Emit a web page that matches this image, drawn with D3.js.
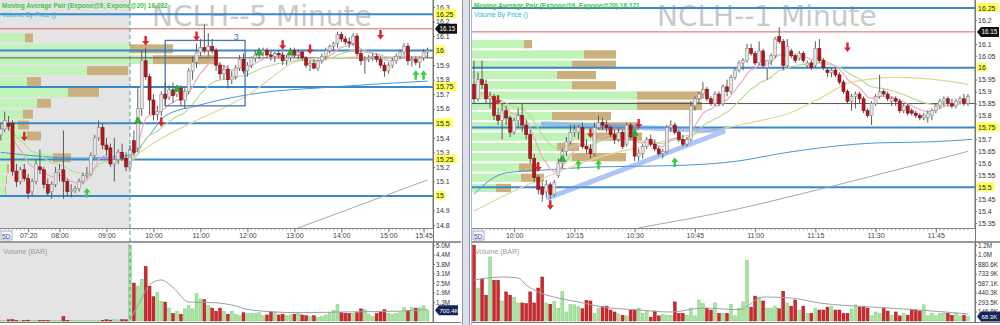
<!DOCTYPE html>
<html>
<head>
<meta charset="utf-8">
<script src="https://cdn.jsdelivr.net/npm/d3@7"></script>
<style>
body { margin: 0; background: #fff; }
svg { display: block; font-family: "Liberation Sans", Arial, sans-serif; }
</style>
</head>
<body>
<svg id="chart" width="1000" height="325"></svg>
<script>
// ---------- data : left chart (5 minute) ----------
var leftTimeLabels = ["07:20", "08:00", "09:00", "10:00", "11:00", "12:00", "13:00", "14:00", "15:00", "15:45"];
// [open, high, low, close], one bar every 5 minutes from 06:45
var leftBars = [
 [15.42,15.50,15.38,15.46],[15.46,15.58,15.44,15.52],[15.50,15.55,15.45,15.48],[15.50,15.52,15.14,15.17],
 [15.17,15.22,15.06,15.10],[15.10,15.20,15.08,15.18],[15.18,15.22,15.10,15.12],[15.12,15.15,14.98,15.02],
 [15.03,15.12,15.00,15.10],[15.10,15.25,15.08,15.22],[15.20,15.32,15.15,15.18],[15.18,15.20,15.05,15.08],
 [15.08,15.12,15.00,15.02],[15.03,15.10,14.98,15.08],[15.08,15.20,15.06,15.16],[15.16,15.22,15.10,15.18],
 [15.18,15.45,14.98,15.10],[15.10,15.12,15.00,15.03],[15.03,15.08,14.99,15.04],[15.04,15.07,15.02,15.05],
 [15.05,15.12,15.03,15.10],[15.10,15.16,15.08,15.14],[15.14,15.20,15.12,15.15],[15.15,15.30,15.14,15.28],
 [15.28,15.42,15.26,15.40],[15.40,15.52,15.38,15.47],[15.47,15.50,15.32,15.35],[15.35,15.40,15.28,15.32],
 [15.33,15.36,15.20,15.22],[15.22,15.40,15.10,15.25],[15.25,15.32,15.22,15.30],[15.30,15.36,15.24,15.26],
 [15.26,15.30,15.17,15.20],
 [15.20,15.35,15.18,15.32],[15.38,15.45,15.28,15.30],[15.33,15.74,15.30,15.60],[15.60,16.00,15.55,15.93],
 [15.93,16.02,15.80,15.82],[15.82,15.84,15.56,15.66],[15.66,15.70,15.52,15.56],[15.56,15.62,15.52,15.58],
 [15.58,15.72,15.55,15.70],[15.70,15.78,15.62,15.67],[15.68,15.76,15.66,15.73],[15.73,15.78,15.64,15.69],
 [15.70,15.76,15.68,15.74],[15.74,15.76,15.62,15.66],[15.66,15.74,15.60,15.72],[15.72,15.88,15.70,15.86],
 [15.86,15.96,15.80,15.92],[15.92,16.05,15.88,15.99],[15.99,16.08,15.96,16.02],[16.02,16.18,15.98,16.00],
 [16.00,16.12,15.96,16.03],[16.03,16.08,15.98,16.00],[16.00,16.02,15.86,15.90],[15.90,15.92,15.80,15.84],
 [15.84,15.90,15.80,15.87],[15.87,15.90,15.74,15.80],[15.80,15.86,15.77,15.82],[15.82,15.90,15.80,15.88],
 [15.88,15.97,15.86,15.94],[15.94,15.98,15.84,15.86],[15.86,15.92,15.82,15.90],[15.90,15.96,15.88,15.95],
 [15.95,16.00,15.92,15.97],[15.97,16.02,15.94,15.99],[15.99,16.02,15.96,16.00],[16.00,16.02,15.95,15.97],
 [15.97,16.00,15.93,15.96],[15.96,15.99,15.92,15.98],[15.98,16.00,15.95,15.97],[15.97,15.99,15.90,15.93],
 [15.93,15.97,15.90,15.95],[15.95,16.02,15.93,16.00],[16.00,16.02,15.95,15.97],[15.97,16.01,15.94,15.99],
 [15.99,16.00,15.93,15.95],[15.95,15.96,15.88,15.90],[15.90,15.93,15.86,15.91],[15.91,15.94,15.87,15.88],
 [15.88,15.94,15.86,15.93],[15.93,15.98,15.91,15.96],[15.96,16.02,15.94,16.00],[16.00,16.04,15.98,16.03],
 [16.03,16.06,16.00,16.05],[16.05,16.13,16.02,16.11],[16.11,16.13,16.06,16.08],[16.08,16.10,16.04,16.06],
 [16.06,16.09,16.02,16.05],[16.05,16.12,16.03,16.10],[16.10,16.12,15.96,15.98],[15.98,16.00,15.90,15.93],
 [15.93,15.96,15.84,15.94],[15.94,15.97,15.92,15.95],[15.95,15.98,15.93,15.96],[15.96,15.98,15.92,15.94],
 [15.94,15.96,15.88,15.90],[15.90,15.92,15.82,15.86],[15.86,15.92,15.84,15.90],[15.90,15.95,15.88,15.93],
 [15.93,15.98,15.91,15.96],[15.96,16.01,15.94,15.99],[15.99,16.05,15.97,16.03],[16.03,16.05,15.90,15.93],
 [15.93,15.96,15.89,15.94],[15.94,15.96,15.90,15.92],[15.92,15.96,15.88,15.95],[15.95,16.01,15.93,15.99],
 [15.99,16.02,15.95,16.00]
];
// volume in millions
var leftVolume = [
 0.05,0.03,0.08,0.10,0.04,0.02,0.03,0.06,0.02,0.05,0.04,0.03,0.02,0.04,0.03,0.05,0.30,0.05,0.04,0.03,
 0.02,0.03,0.02,0.04,0.05,0.06,0.05,0.08,0.06,0.10,0.07,0.09,0.08,
 5.0,2.5,2.3,2.75,3.6,2.3,1.6,1.9,1.3,1.25,0.85,0.5,0.65,0.45,0.8,1.0,0.8,1.8,1.45,1.4,1.0,0.85,0.65,
 0.85,0.65,0.45,0.65,0.45,0.35,
 0.55,0.5,0.5,0.5,0.55,0.35,0.4,0.6,0.6,0.4,0.45,0.35,0.4,0.45,0.5,0.4,0.35,0.3,0.35,0.25,0.3,0.4,
 0.55,0.7,1.1,0.55,0.5,0.5,0.5,0.55,0.8,0.75,0.45,0.3,0.5,0.6,0.75,0.5,0.45,0.5,0.6,0.9,0.7,0.9,
 0.85,0.9,1.0,0.7004
];
var leftVolMA = [[33,0.05],[36,1.5],[38,2.4],[41,2.7],[44,2.2],[48,1.25],[55,1.2],[59,1.05],[64,0.72],[76,0.55],[89,0.6],[102,0.65],[109,0.75]];
// volume by price rows (row top price), up / down volume in thousands
var leftProfileTop = [16.125,16.05,15.975,15.9,15.825,15.75,15.675,15.6,15.525,15.45,15.375,15.3,15.225,15.15,15.075];
var leftProfileUp = [2500,13000,15300,8700,2700,6800,3700,2300,1800,2700,1200,5300,700,600,500];
var leftProfileDown = [800,4300,6400,4100,1400,3100,1400,1000,1100,1400,300,1800,200,100,100];
var leftTan = [[33,15.25],[40,15.38],[50,15.52],[58,15.62],[64,15.71],[70,15.83],[75,15.92],[82,15.95],[109,15.96]];
var leftBlue = [[0,15.30],[20,15.26],[33,15.28],[38,15.42],[42,15.55],[50,15.62],[64,15.70],[85,15.75],[109,15.79]];
var leftGray = [[75,14.77],[90,14.92],[109,15.11]];
var leftKeyLevels = [15, 15.25, 15.5, 15.75, 16, 16.25];
var leftPriceTicks = [14.8,14.9,15.1,15.2,15.3,15.4,15.6,15.7,15.8,15.9,16.1,16.2,16.3];
var leftSells = [[6,15.40],[37,16.06],[41,15.50],[50,16.09],[72,16.03],[79,16.00],[97,16.10]];
var leftBuys = [[22,15.03],[106,15.84],[108,15.84]];
var leftSignals = [[35,15.52],[45,15.74],[66,15.99],[74,15.99]];
var leftVolTicks = [1.25,1.875,2.5,3.125,3.75,4.375,5.0];

// ---------- data : right chart (1 minute) ----------
var rightTimeLabels = ["10:00", "10:15", "10:30", "10:45", "11:00", "11:15", "11:30", "11:45"];
// [open, high, low, close], one bar every minute from 09:50
var rightBars = [
 [15.93,16.03,15.85,15.87],[15.87,15.98,15.86,15.95],[15.95,16.03,15.91,15.93],[15.93,15.95,15.85,15.87],
 [15.87,15.90,15.83,15.88],[15.88,15.89,15.78,15.80],[15.80,15.83,15.76,15.78],[15.78,15.85,15.70,15.82],
 [15.82,15.84,15.76,15.79],[15.79,15.80,15.71,15.73],[15.73,15.79,15.72,15.78],[15.78,15.83,15.75,15.80],
 [15.80,15.85,15.73,15.76],[15.76,15.78,15.70,15.72],[15.72,15.74,15.60,15.62],[15.62,15.64,15.52,15.54],
 [15.54,15.55,15.47,15.49],[15.50,15.52,15.44,15.47],[15.48,15.53,15.46,15.51],[15.51,15.52,15.45,15.47],
 [15.47,15.53,15.46,15.52],[15.55,15.62,15.54,15.60],[15.60,15.66,15.58,15.65],[15.65,15.71,15.63,15.69],
 [15.69,15.76,15.68,15.73],[15.73,15.76,15.71,15.74],[15.73,15.76,15.70,15.75],[15.75,15.77,15.66,15.67],
 [15.67,15.70,15.64,15.66],[15.66,15.68,15.62,15.64],[15.64,15.77,15.63,15.75],[15.75,15.80,15.74,15.77],
 [15.77,15.79,15.74,15.76],[15.76,15.78,15.73,15.75],[15.75,15.76,15.71,15.72],[15.72,15.74,15.68,15.70],
 [15.70,15.75,15.69,15.73],[15.73,15.74,15.66,15.67],[15.68,15.77,15.67,15.76],[15.76,15.77,15.70,15.71],
 [15.71,15.72,15.61,15.63],[15.63,15.66,15.61,15.64],[15.64,15.68,15.62,15.67],[15.67,15.71,15.66,15.70],
 [15.70,15.72,15.67,15.68],[15.68,15.70,15.65,15.66],[15.66,15.67,15.63,15.64],[15.64,15.66,15.62,15.65],
 [15.65,15.76,15.64,15.75],[15.75,15.78,15.73,15.76],[15.76,15.77,15.72,15.73],[15.73,15.74,15.69,15.70],
 [15.70,15.72,15.67,15.68],[15.68,15.71,15.67,15.70],[15.70,15.86,15.69,15.84],[15.84,15.88,15.82,15.87],
 [15.87,15.90,15.85,15.89],[15.89,15.94,15.87,15.91],[15.91,15.92,15.86,15.87],[15.87,15.88,15.84,15.85],
 [15.85,15.90,15.84,15.89],[15.89,15.90,15.84,15.85],[15.85,15.93,15.84,15.92],[15.92,15.95,15.88,15.90],
 [15.90,15.97,15.89,15.96],[15.96,16.00,15.95,15.99],[15.99,16.03,15.98,16.02],[16.02,16.04,15.99,16.03],
 [16.03,16.10,16.02,16.08],[16.08,16.10,16.05,16.06],[16.06,16.07,16.01,16.02],[16.02,16.11,16.01,16.07],
 [16.07,16.08,16.00,16.01],[16.00,16.03,15.95,16.03],[16.03,16.06,16.01,16.05],[16.05,16.13,16.04,16.12],
 [16.13,16.17,16.10,16.11],[16.11,16.12,15.99,16.01],[16.01,16.12,16.00,16.09],[16.07,16.08,16.04,16.05],
 [16.05,16.06,16.02,16.03],[16.04,16.07,16.03,16.06],[16.06,16.07,16.02,16.03],[16.01,16.03,16.00,16.02],
 [16.02,16.03,15.99,16.00],[16.01,16.11,16.00,16.08],[16.08,16.12,16.02,16.03],[16.03,16.04,15.99,16.00],
 [15.99,16.00,15.96,15.98],[15.98,16.00,15.96,15.99],[15.99,16.00,15.96,15.97],[15.97,15.98,15.93,15.94],
 [15.94,15.95,15.89,15.90],[15.90,15.91,15.85,15.86],[15.86,15.89,15.82,15.88],[15.88,15.90,15.83,15.89],
 [15.89,15.90,15.85,15.87],[15.87,15.88,15.81,15.82],[15.82,15.83,15.79,15.80],[15.80,15.86,15.76,15.85],
 [15.85,15.89,15.84,15.88],[15.88,15.97,15.87,15.90],[15.90,15.91,15.88,15.89],[15.89,15.90,15.86,15.87],
 [15.86,15.88,15.84,15.87],[15.87,15.88,15.84,15.86],[15.86,15.87,15.81,15.82],[15.82,15.85,15.81,15.84],
 [15.84,15.85,15.80,15.81],[15.82,15.83,15.80,15.81],[15.81,15.82,15.79,15.80],[15.80,15.81,15.78,15.79],
 [15.79,15.81,15.78,15.80],[15.79,15.82,15.77,15.81],[15.80,15.83,15.78,15.82],[15.82,15.85,15.81,15.84],
 [15.84,15.87,15.83,15.86],[15.86,15.88,15.84,15.87],[15.87,15.88,15.84,15.85],[15.85,15.87,15.83,15.84],
 [15.84,15.87,15.83,15.86],[15.86,15.88,15.85,15.87],[15.87,15.89,15.84,15.85],[15.85,15.89,15.84,15.88]
];
// volume in thousands
var rightVolume = [
 1174,510,650,400,990,630,630,310,450,400,370,280,280,270,450,280,510,680,280,260,
 300,200,460,140,260,250,220,190,320,310,120,200,220,230,170,140,110,90,80,170,
 170,200,120,155,60,155,80,105,90,90,295,120,120,90,200,80,325,270,200,170,
 280,120,120,120,260,80,200,
 295,940,215,385,370,310,200,200,230,190,460,280,230,325,170,230,120,120,200,170,
 170,215,230,170,170,120,120,185,250,215,230,200,80,140,120,200,155,90,140,80,
 120,90,170,170,155,250,80,120,80,120,120,120,90,120,80,90,68.3
];
var rightVolMA = [[0,633],[7,680],[11,664],[13,556],[16,448],[21,355],[26,294],[32,216],[41,170],[49,139],[57,200],[66,175],[72,371],[79,355],[86,278],[99,216],[111,170],[123,108]];
var rightProfileTop = [16.12,16.077,16.034,15.991,15.948,15.905,15.862,15.819,15.776,15.733,15.69,15.647,15.604,15.561,15.518];
var rightProfileUp = [52,112,100,85,100,165,165,80,127,120,85,100,47,49,24];
var rightProfileDown = [8,32,44,39,44,65,65,59,40,50,22,54,20,23,15];
var rightTan = [[0,15.40],[12,15.50],[22,15.57],[32,15.63],[42,15.67],[54,15.72],[66,15.76],[80,15.82],[87,15.88],[94,15.94],[105,15.96],[115,15.95],[123,15.93]];
var rightBlue = [[0,15.47],[4,15.53],[8,15.56],[16,15.57],[31,15.585],[49,15.59],[66,15.61],[76,15.64],[89,15.67],[100,15.685],[114,15.69],[124,15.70]];
var rightGray = [[41,15.33],[66,15.41],[81,15.47],[100,15.55],[123,15.65]];
var rightKeyLevels = [15.5, 15.75, 16, 16.25];
var rightPriceTicks = [15.35,15.4,15.45,15.55,15.6,15.65,15.7,15.8,15.85,15.9,15.95,16.05,16.1,16.2];
var rightSells = [[6,15.86],[16,15.58],[19,15.42],[29,15.72],[41,15.76],[93,16.08]];
var rightBuys = [[26,15.60],[31,15.60],[50,15.61]];
var rightSignals = [[22,15.62],[40,15.73]];
var rightVolTicks = [146.8,293.5,440.3,587.1,733.9,880.6,1027.5,1174.4];
var rightVolTickLabels = ["146.8K","293.5K","440.3K","587.1K","733.9K","880.6K","1.0M","1.2M"];

var svg = d3.select("#chart");

function toMin(s) {
    var a = s.split(":");
    return +a[0] * 60 + +a[1];
}

function ema(values, n) {
    var k = 2 / (n + 1), prev = values[0];
    return values.map(function (v, i) {
        prev = i ? v * k + prev * (1 - k) : v;
        return prev;
    });
}

function fmtTime(m) {
    return d3.format("02")(Math.floor(m / 60)) + ":" + d3.format("02")(m % 60);
}

function drawPanel(p) {
    var x = d3.scaleLinear().domain(p.timeDomain).range([p.x0, p.x1]);
    var y = d3.scaleLinear().domain(p.priceDomain).range([p.yLow, p.yHigh]);
    var v = d3.scaleLinear().domain([0, p.volMax]).range([321, 245]);
    var t0 = toMin(p.barStart);
    var bx = function (i) { return x(t0 + i * p.barStep); };
    var bars = p.bars.map(function (b, i) { return { i: i, o: b[0], h: b[1], l: b[2], c: b[3], vol: p.volume[i] }; });

    var g = svg.append("g");
    g.append("clipPath").attr("id", "clip" + p.id)
        .append("rect").attr("x", p.x0).attr("y", 0).attr("width", p.x1 - p.x0).attr("height", 228);
    g.append("clipPath").attr("id", "vclip" + p.id)
        .append("rect").attr("x", p.x0).attr("y", 243).attr("width", p.x1 - p.x0).attr("height", 80);
    var pane = g.append("g").attr("clip-path", "url(#clip" + p.id + ")");
    var vpane = g.append("g").attr("clip-path", "url(#vclip" + p.id + ")");

    // pre-market shading
    if (p.shadeTo) {
        var sx = x(toMin(p.shadeTo));
        pane.append("rect").attr("x", p.x0).attr("y", 0).attr("width", sx - p.x0).attr("height", 228).attr("fill", "#e4e4e4");
        vpane.append("rect").attr("x", p.x0).attr("y", 243).attr("width", sx - p.x0).attr("height", 80).attr("fill", "#e4e4e4");
        g.append("line").attr("x1", sx).attr("x2", sx).attr("y1", 0).attr("y2", 322)
            .attr("stroke", "#4f9a9a").attr("stroke-width", 1).attr("stroke-dasharray", "4,3");
    }

    // title watermark (behind everything)
    pane.append("text").attr("x", p.titleX).attr("y", 25.5).text(p.title)
        .attr("font-family", "DejaVu Sans").attr("font-size", 28).attr("fill", "#c9c9c9");

    // volume by price
    var pw = d3.scaleLinear().domain([0, p.profileMax]).range([0, p.profileWidth]);
    var rows = p.profileTop.map(function (top, k) {
        return { top: top, up: p.profileUp[k], down: p.profileDown[k] };
    });
    pane.selectAll(".pu").data(rows).enter().append("rect")
        .attr("x", p.x0)
        .attr("y", function (d) { return y(d.top) + 1; })
        .attr("width", function (d) { return pw(d.up); })
        .attr("height", function (d) { return y(d.top - p.profileStep) - y(d.top) - 2; })
        .attr("fill", "#bff3b8");
    pane.selectAll(".pd").data(rows).enter().append("rect")
        .attr("x", function (d) { return p.x0 + pw(d.up); })
        .attr("y", function (d) { return y(d.top) + 1; })
        .attr("width", function (d) { return pw(d.down); })
        .attr("height", function (d) { return y(d.top - p.profileStep) - y(d.top) - 2; })
        .attr("fill", "#cbb07e");

    // level lines
    pane.selectAll(".key").data(p.keyLevels).enter().append("line")
        .attr("x1", p.x0).attr("x2", p.x1)
        .attr("y1", function (d) { return y(d); }).attr("y2", function (d) { return y(d); })
        .attr("stroke", "#3a88cc").attr("stroke-width", 2);
    pane.append("line").attr("x1", p.x0).attr("x2", p.x1).attr("y1", y(p.redLevel)).attr("y2", y(p.redLevel))
        .attr("stroke", "#e06060").attr("stroke-width", 1);
    pane.append("line").attr("x1", p.x0).attr("x2", p.x1).attr("y1", y(p.darkLevel)).attr("y2", y(p.darkLevel))
        .attr("stroke", "#555").attr("stroke-width", 1);

    // moving averages
    var closes = bars.map(function (d) { return d.c; });
    var lineIdx = d3.line().x(function (d, i) { return bx(i); }).y(function (d) { return y(d); });
    var linePts = d3.line().curve(d3.curveMonotoneX).x(function (d) { return bx(d[0]); }).y(function (d) { return y(d[1]); });
    pane.append("path").attr("d", linePts(p.grayLine)).attr("fill", "none").attr("stroke", "#a8a8a8").attr("stroke-width", 1);
    pane.append("path").attr("d", linePts(p.blueLine)).attr("fill", "none").attr("stroke", "#4b95cf").attr("stroke-width", 1);
    pane.append("path").attr("d", linePts(p.tanLine)).attr("fill", "none").attr("stroke", "#e2d69a").attr("stroke-width", 1.2);
    pane.append("path").attr("d", lineIdx(ema(closes, 20))).attr("fill", "none").attr("stroke", "#b9dc95").attr("stroke-width", 1.2);
    pane.append("path").attr("d", lineIdx(ema(closes, 9))).attr("fill", "none").attr("stroke", "#ecaac4").attr("stroke-width", 1.2);

    if (p.extra) p.extra(pane, bx, y);

    // candles
    pane.selectAll(".wick").data(bars).enter().append("line")
        .attr("x1", function (d) { return bx(d.i); }).attr("x2", function (d) { return bx(d.i); })
        .attr("y1", function (d) { return y(d.h); }).attr("y2", function (d) { return y(d.l); })
        .attr("stroke", "#5a5a5a").attr("stroke-width", 1);
    pane.selectAll(".body").data(bars).enter().append("rect")
        .attr("x", function (d) { return bx(d.i) - 1.5; })
        .attr("width", 3)
        .attr("y", function (d) { return y(Math.max(d.o, d.c)); })
        .attr("height", function (d) { return Math.max(1, Math.abs(y(d.o) - y(d.c))); })
        .attr("fill", function (d) { return d.c >= d.o ? "#e6e6e6" : "#b5161c"; })
        .attr("stroke", function (d) { return d.c >= d.o ? "#8c8c8c" : "#7c0f12"; })
        .attr("stroke-width", 0.6);

    // signal markers
    var down = "M-1.2,-6 L1.2,-6 L1.2,-1 L3.5,-1 L0,3.5 L-3.5,-1 L-1.2,-1 Z";
    var up = "M-1.2,6 L1.2,6 L1.2,1 L3.5,1 L0,-3.5 L-3.5,1 L-1.2,1 Z";
    pane.selectAll(".sell").data(p.sells).enter().append("path").attr("d", down)
        .attr("transform", function (d) { return "translate(" + bx(d[0]) + "," + y(d[1]) + ")"; })
        .attr("fill", "#d7262b");
    pane.selectAll(".buy").data(p.buys).enter().append("path").attr("d", up)
        .attr("transform", function (d) { return "translate(" + bx(d[0]) + "," + y(d[1]) + ")"; })
        .attr("fill", "#35d03a");
    pane.selectAll(".sig").data(p.signals).enter().append("path").attr("d", "M0,-3.5 L3.5,3 L-3.5,3 Z")
        .attr("transform", function (d) { return "translate(" + bx(d[0]) + "," + y(d[1]) + ")"; })
        .attr("fill", "#2eb82e").attr("stroke", "#1d7a1d").attr("stroke-width", 0.5);

    // indicator texts
    g.append("text").attr("x", p.x0 + 2).attr("y", 8).text(p.maText)
        .attr("font-size", 6.5).attr("font-weight", "bold").attr("fill", "#43c443");
    g.append("text").attr("x", p.x0 + 2).attr("y", 16.5).text("Volume By Price ()")
        .attr("font-size", 6.5).attr("fill", "#33b0dd");

    // price axis
    var axisY = d3.axisRight(y).tickValues(p.priceTicks).tickSize(2).tickFormat(function (d) { return String(d); });
    var ay = g.append("g").attr("transform", "translate(" + p.x1 + ",0)").call(axisY);
    ay.select(".domain").attr("stroke", "#777").attr("d", "M0,0V228");
    ay.selectAll("text").attr("font-size", 7).attr("fill", "#333").attr("x", 3);
    ay.selectAll("line").attr("stroke", "#777");
    var keys = g.selectAll(".kl").data(p.keyLevels).enter().append("g")
        .attr("transform", function (d) { return "translate(" + (p.x1 + 2) + "," + y(d) + ")"; });
    keys.append("rect").attr("x", 0).attr("y", -5).attr("height", 9)
        .attr("width", function (d) { return String(d).length * 3.9 + 2; }).attr("fill", "#ffff55");
    keys.append("text").attr("x", 1).attr("y", 2.5).text(function (d) { return String(d); })
        .attr("font-size", 7).attr("fill", "#222");
    var tag = g.append("g").attr("transform", "translate(" + (p.x1 + 2) + "," + y(p.redLevel) + ")");
    tag.append("path").attr("d", "M0,0 L4,-5 L22,-5 L22,5 L4,5 Z").attr("fill", "#111");
    tag.append("text").attr("x", 4.5).attr("y", 2.3).text(String(p.redLevel)).attr("font-size", 6.3).attr("fill", "#fff");

    // time axis
    g.append("line").attr("x1", p.x0).attr("x2", p.x1).attr("y1", 228.5).attr("y2", 228.5).attr("stroke", "#888");
    g.selectAll(".mt").data(bars).enter().append("line")
        .attr("x1", function (d) { return bx(d.i); }).attr("x2", function (d) { return bx(d.i); })
        .attr("y1", 228.5).attr("y2", 230.5).attr("stroke", "#888").attr("stroke-width", 0.6);
    var axisX = d3.axisBottom(x).tickValues(p.timeLabels.map(toMin)).tickSize(4).tickFormat(fmtTime);
    var ax = g.append("g").attr("transform", "translate(0,228.5)").call(axisX);
    ax.select(".domain").remove();
    ax.selectAll("line").attr("stroke", "#777");
    ax.selectAll("text").attr("font-size", 7).attr("fill", "#444").attr("y", 5);
    g.append("rect").attr("x", p.x0 + 1).attr("y", 231).attr("width", 11).attr("height", 9)
        .attr("fill", "#f4f6fb").attr("stroke", "#6a7fb0").attr("stroke-width", 0.6);
    g.append("text").attr("x", p.x0 + 2).attr("y", 238.5).text(p.barLabel)
        .attr("font-size", 6.5).attr("fill", "#3a4f9a");

    // volume pane
    g.append("line").attr("x1", p.x0).attr("x2", p.x1 + 28).attr("y1", 242).attr("y2", 242).attr("stroke", "#777").attr("stroke-width", 1.5);
    vpane.selectAll(".vb").data(bars).enter().append("rect")
        .attr("x", function (d) { return bx(d.i) - 1.5; })
        .attr("width", 3)
        .attr("y", function (d) { return v(d.vol); })
        .attr("height", function (d) { return 321 - v(d.vol); })
        .attr("fill", function (d) { return d.c >= d.o ? "#a6e4a0" : "#cc2a2e"; })
        .attr("stroke", function (d) { return d.c >= d.o ? "#7cc676" : "#99161a"; })
        .attr("stroke-width", 0.4);
    var vline = d3.line().curve(d3.curveMonotoneX).x(function (d) { return bx(d[0]); }).y(function (d) { return v(d[1]); });
    vpane.append("path").attr("d", vline(p.volMA)).attr("fill", "none").attr("stroke", "#a0a0a0").attr("stroke-width", 1);
    g.append("text").attr("x", p.x0 + 3).attr("y", 254).text("Volume (BAR)").attr("font-size", 7).attr("fill", "#999");
    var axisV = d3.axisRight(v).tickValues(p.volTicks).tickSize(2).tickFormat(p.volFormat);
    var av = g.append("g").attr("transform", "translate(" + p.x1 + ",0)").call(axisV);
    av.select(".domain").attr("stroke", "#777").attr("d", "M0,243V322");
    av.selectAll("text").attr("font-size", 6.3).attr("fill", "#333").attr("x", 3);
    av.selectAll("line").attr("stroke", "#777");
    var last = p.volume[p.volume.length - 1];
    var vt = g.append("g").attr("transform", "translate(" + (p.x1 + 2) + "," + v(last) + ")");
    vt.append("path").attr("d", "M0,0 L4,-5 L23,-5 L23,5 L4,5 Z").attr("fill", "#17245a");
    vt.append("text").attr("x", 4.5).attr("y", 2.3).text(p.volFormatLast(last)).attr("font-size", 6).attr("fill", "#fff");

    // frame
    g.append("line").attr("x1", p.x1 + 0.5).attr("x2", p.x1 + 0.5).attr("y1", 0).attr("y2", 322).attr("stroke", "#777");
    g.append("line").attr("x1", p.x0).attr("x2", p.x1 + 28).attr("y1", 322.5).attr("y2", 322.5).attr("stroke", "#777");
}

drawPanel({
    id: "L", x0: 0, x1: 433, timeDomain: [toMin("06:44"), toMin("15:57")],
    priceDomain: [14.8, 16.3], yLow: 225, yHigh: 7, volMax: 5.0,
    barStart: "06:45", barStep: 5, bars: leftBars, volume: leftVolume, volMA: leftVolMA,
    shadeTo: "09:30",
    profileTop: leftProfileTop, profileUp: leftProfileUp, profileDown: leftProfileDown,
    profileStep: 0.075, profileMax: 21700, profileWidth: 217,
    keyLevels: leftKeyLevels, priceTicks: leftPriceTicks, redLevel: 16.15, darkLevel: 15.95,
    tanLine: leftTan, blueLine: leftBlue, grayLine: leftGray,
    sells: leftSells, buys: leftBuys, signals: leftSignals,
    title: "NCLH--5 Minute", titleX: 152,
    maText: "Moving Average Pair (Expone@9, Expone@20) 16.082",
    timeLabels: leftTimeLabels, barLabel: "5D",
    volTicks: leftVolTicks,
    volFormat: function (d) { return d3.format(".1f")(d) + "M"; },
    volFormatLast: function (d) { return d3.format(".1f")(d * 1000) + "K"; },
    extra: function (pane, bx, y) {
        // annotation box "3"
        pane.append("rect").attr("x", bx(42)).attr("y", y(16.07))
            .attr("width", bx(62.4) - bx(42)).attr("height", y(15.62) - y(16.07))
            .attr("fill", "none").attr("stroke", "#4a74ad").attr("stroke-width", 1.3);
        pane.append("text").attr("x", bx(59.5)).attr("y", y(16.07) - 0.5).text("3")
            .attr("font-size", 9).attr("fill", "#4a74ad");
    }
});

drawPanel({
    id: "R", x0: 472, x1: 975, timeDomain: [589.5, 714.75],
    priceDomain: [15.35, 16.25], yLow: 223, yHigh: 8, volMax: 1174.4,
    barStart: "09:50", barStep: 1, bars: rightBars, volume: rightVolume, volMA: rightVolMA,
    profileTop: rightProfileTop, profileUp: rightProfileUp, profileDown: rightProfileDown,
    profileStep: 0.043, profileMax: 230, profileWidth: 230,
    keyLevels: rightKeyLevels, priceTicks: rightPriceTicks, redLevel: 16.15, darkLevel: 15.85,
    tanLine: rightTan, blueLine: rightBlue, grayLine: rightGray,
    sells: rightSells, buys: rightBuys, signals: rightSignals,
    title: "NCLH--1 Minute", titleX: 657,
    maText: "Moving Average Pair (Expone@9, Expone@20) 16.171",
    timeLabels: rightTimeLabels, barLabel: "5D",
    volTicks: rightVolTicks,
    volFormat: function (d, i) { return rightVolTickLabels[i]; },
    volFormatLast: function (d) { return d3.format(".1f")(d) + "K"; },
    extra: function (pane, bx, y) {
        // hand drawn triangle
        var tri = d3.line().x(function (d) { return bx(d[0]); }).y(function (d) { return y(d[1]); });
        pane.append("path").attr("d", tri([[18.5, 15.455], [62.5, 15.735], [17.2, 15.765]]))
            .attr("fill", "none").attr("stroke", "#6a98ee").attr("stroke-opacity", 0.55)
            .attr("stroke-width", 5).attr("stroke-linecap", "round");
    }
});

// panel separator
svg.append("rect").attr("x", 462).attr("y", 0).attr("width", 8).attr("height", 325).attr("fill", "#dde2ea");
svg.append("line").attr("x1", 462.5).attr("x2", 462.5).attr("y1", 0).attr("y2", 325).attr("stroke", "#8c96a8");
svg.append("line").attr("x1", 469.5).attr("x2", 469.5).attr("y1", 0).attr("y2", 325).attr("stroke", "#8c96a8");
svg.append("line").attr("x1", 471.5).attr("x2", 471.5).attr("y1", 0).attr("y2", 325).attr("stroke", "#b0b8c4");
</script>
</body>
</html>
